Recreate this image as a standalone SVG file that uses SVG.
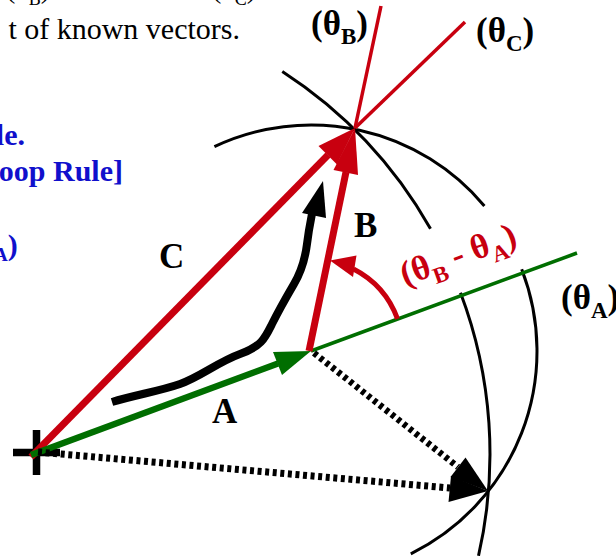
<svg xmlns="http://www.w3.org/2000/svg" width="616" height="556" viewBox="0 0 616 556">
<style>
text{font-family:"Liberation Serif","Times New Roman",serif}
.lbl{font-size:35px;font-weight:bold;fill:#000}
.blue{font-size:30px;font-weight:bold;fill:#1010cc}
.red{fill:#c8000f}
.redS{stroke:#c8000f;fill:none}
.grn{fill:#006e00}
.grnS{stroke:#006e00;fill:none}
.arc{stroke:#000;stroke-width:3;fill:none}
.dot{stroke:#000;fill:none;stroke-dasharray:4 3.6}
</style>
<rect width="616" height="556" fill="#fff"/>
<g id="text-fragments">
<text x="6" y="-2" style="font-size:28px">(θ<tspan dy="7" font-size="18">B</tspan><tspan dy="-7">)</tspan></text>
<text x="212" y="-2" style="font-size:28px">(θ<tspan dy="7" font-size="18">C</tspan><tspan dy="-7">)</tspan></text>
<text x="240" y="39" text-anchor="end" style="font-size:30px">t of known vectors.</text>
<text x="25" y="145" text-anchor="end" class="blue">le.</text>
<text x="123" y="181" text-anchor="end" class="blue">oop Rule]</text>
<text x="-6" y="255" class="blue"><tspan dy="6" font-size="19">A</tspan><tspan dy="-6">)</tspan></text>
</g>
<g id="circles">
<path class="arc" d="M282.3,71.6 A456,456 0 0 1 430.5,228.8"/>
<path class="arc" d="M460.5,292.8 A456,456 0 0 1 478.5,555.8"/>
<path class="arc" d="M214.4,146.7 A226,226 0 0 1 484.4,206"/>
<path class="arc" d="M521.7,269.3 A226,226 0 0 1 410.8,553.8"/>
</g>
<g id="origin">
<path d="M13,452.5 H60 M36.5,430 V475" stroke="#000" stroke-width="7.5" fill="none"/>
</g>
<g id="connectors">
<g id="ray-thetaB"><line class="redS" x1="355" y1="128" x2="381" y2="6" stroke-width="3.5"/></g>
<g id="ray-thetaC"><line class="redS" x1="355" y1="128" x2="465" y2="22" stroke-width="3.5"/></g>
<g id="ray-thetaA"><line class="grnS" x1="311" y1="351" x2="577" y2="253" stroke-width="3.5"/></g>
<g id="vector-C">
<line class="redS" x1="31" y1="457" x2="328" y2="155" stroke-width="7"/>
<polygon class="red" points="355,128 337,164.5 318.5,146"/>
</g>
<g id="vector-B">
<line class="redS" x1="309" y1="351" x2="346" y2="172" stroke-width="7"/>
<polygon class="red" points="355,128 358,175 333.5,170"/>
</g>
<g id="vector-A">
<line class="grnS" x1="31" y1="455" x2="278" y2="363.5" stroke-width="6.5"/>
<polygon class="grn" points="311,351 282,375 273,352"/>
</g>
<g id="angle-arrow">
<path class="redS" d="M397.5,318.9 A91,91 0 0 0 353.5,269" stroke-width="5"/>
<polygon class="red" points="330,260.5 356.5,255.5 353,277"/>
</g>
<g id="loop-arrow">
<path d="M112,402 C135,395 160,391 180,384 S218,362 240,354 S265,338 272,324 S287,296 294,284 S305,260 307,244 S310,224 312,214" stroke="#000" stroke-width="8" fill="none"/>
<polygon points="323,181 302,213 326,218" fill="#000"/>
</g>
<g id="dotted-B">
<line class="dot" x1="314" y1="353" x2="458" y2="467" stroke-width="6.5"/>
<polygon points="488,491 450.5,477 465.5,457.5" fill="#000"/>
</g>
<g id="dotted-C">
<line class="dot" x1="38" y1="452" x2="450" y2="488" stroke-width="7"/>
<polygon points="488,491 448.5,502 451,476" fill="#000"/>
</g>
</g>
<g id="labels">
<text class="lbl" x="311" y="35">(θ<tspan dy="9" font-size="23">B</tspan><tspan dy="-9">)</tspan></text>
<text class="lbl" x="476" y="42">(θ<tspan dy="9" font-size="23">C</tspan><tspan dy="-9">)</tspan></text>
<text class="lbl" x="561" y="309">(θ<tspan dy="9" font-size="23">A</tspan><tspan dy="-9">)</tspan></text>
<text class="lbl" x="159" y="268">C</text>
<text class="lbl" x="212" y="423">A</text>
<text class="lbl" x="354" y="237">B</text>
<text class="lbl" x="0" y="0" transform="translate(405,286) rotate(-20)" style="fill:#c8000f">(θ<tspan dy="9" font-size="23">B</tspan><tspan dy="-9"> - θ</tspan><tspan dy="9" font-size="23">A</tspan><tspan dy="-9">)</tspan></text>
</g>
</svg>
